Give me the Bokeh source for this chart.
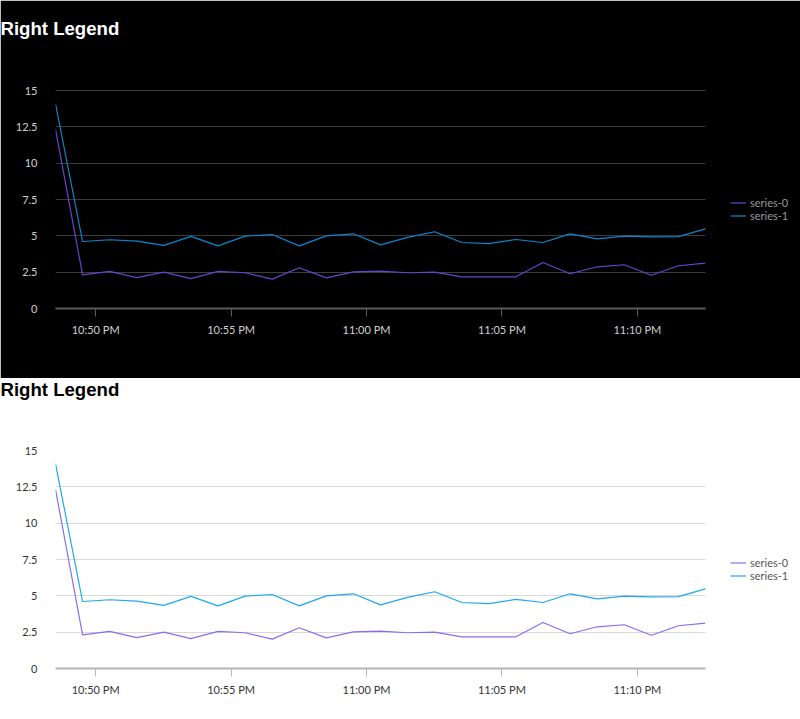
from datetime import datetime
from bokeh.plotting import figure
from bokeh.models import (Legend, LegendItem, DatetimeTickFormatter, DatetimeTicker,
                          Range1d, FixedTicker, ColumnDataSource, Title)
from bokeh.layouts import column
from bokeh.embed import file_html
from bokeh.resources import INLINE

times = ["22:48:31", "22:49:31", "22:50:31", "22:51:31", "22:52:31", "22:53:31",
         "22:54:31", "22:55:31", "22:56:31", "22:57:31", "22:58:31", "22:59:31",
         "23:00:31", "23:01:31", "23:02:31", "23:03:31", "23:04:31", "23:05:31",
         "23:06:31", "23:07:31", "23:08:31", "23:09:31", "23:10:31", "23:11:31",
         "23:12:31"]
series0 = [12.32, 2.32, 2.55, 2.13, 2.50, 2.06, 2.55, 2.46, 2.02, 2.80, 2.11, 2.52,
           2.57, 2.46, 2.50, 2.18, 2.18, 2.18, 3.17, 2.39, 2.87, 3.01, 2.29, 2.94, 3.12]
series1 = [14.09, 4.61, 4.73, 4.63, 4.34, 4.96, 4.31, 4.98, 5.09, 4.31, 5.00, 5.14,
           4.38, 4.89, 5.28, 4.54, 4.47, 4.75, 4.54, 5.14, 4.79, 4.98, 4.93, 4.95, 5.48]
y_ticks = [0, 2.5, 5, 7.5, 10, 12.5, 15]
title_text = "Right Legend"

xs = [datetime.strptime("2024-01-01 " + t, "%Y-%m-%d %H:%M:%S") for t in times]


def make_panel(dark, height, top, gap):
    bg = "#000000" if dark else "#ffffff"
    fg = "#d0d0d0" if dark else "#333333"
    grid = "#3c3c3c" if dark else "#d9d9d9"
    axis_col = "#5a5a5a" if dark else "#b4b6ba"
    c0 = "#6a42cc" if dark else "#8c6cf0"
    c1 = "#0a86cf" if dark else "#1fa8f2"
    # dark panel: one spare pixel above 15 so the black outline does not hide that grid line
    fh = 219 if dark else 218
    y_end = 15.07 if dark else 15
    p = figure(width=800, height=height, x_axis_type="datetime",
               x_range=Range1d(xs[0], xs[-1]), y_range=Range1d(0, y_end),
               frame_width=650, frame_height=fh,
               min_border_left=55, min_border_right=95, min_border_top=top,
               min_border_bottom=height - top - fh,
               toolbar_location=None, output_backend="svg",
               background_fill_color=bg, border_fill_color=bg,
               outline_line_color=bg if dark else None, title=None)

    # spacer between the frame and the title
    p.add_layout(Title(text=" ", text_font_size="1px", standoff=gap), "above")
    head = Title(text=title_text, text_font="Liberation Sans", text_font_size="18.6px",
                 text_font_style="bold", text_color="#ffffff" if dark else "#000000",
                 offset=-55, standoff=0, vertical_align="top")
    p.add_layout(head, "above")

    src = ColumnDataSource(dict(x=xs, s0=series0, s1=series1))
    r0 = p.line("x", "s0", source=src, line_color=c0, line_width=1.2)
    r1 = p.line("x", "s1", source=src, line_color=c1, line_width=1.2)

    p.xgrid.visible = False
    p.ygrid.grid_line_color = grid
    p.ygrid.grid_line_width = 1

    p.yaxis.ticker = FixedTicker(ticks=y_ticks)
    p.yaxis.axis_line_color = None
    p.yaxis.major_tick_line_color = None
    p.yaxis.minor_tick_line_color = None
    p.yaxis.major_label_standoff = 12
    p.yaxis.major_label_text_font = "Lato"
    p.yaxis.major_label_text_font_size = "11px"
    p.yaxis.major_label_text_color = fg

    p.xaxis.ticker = DatetimeTicker(desired_num_ticks=5)
    p.xaxis.formatter = DatetimeTickFormatter(minutes="%I:%M %p", hourmin="%I:%M %p",
                                              hours="%I:%M %p")
    p.xaxis.axis_line_color = axis_col
    p.xaxis.axis_line_width = 2
    p.xaxis.major_tick_line_color = axis_col
    p.xaxis.major_tick_out = 8
    p.xaxis.major_tick_in = 0
    p.xaxis.minor_tick_line_color = None
    p.xaxis.major_label_standoff = 6
    p.xaxis.major_label_text_font = "Lato"
    p.xaxis.major_label_text_font_size = "11px"
    p.xaxis.major_label_text_color = fg

    legend = Legend(items=[LegendItem(label="series-0", renderers=[r0]),
                           LegendItem(label="series-1", renderers=[r1])],
                    location=(25, 86), padding=0, margin=0, spacing=0,
                    label_height=13, glyph_height=13, glyph_width=16,
                    label_standoff=4, label_text_font="Lato",
                    label_text_font_size="11px",
                    label_text_color="#9a9a9a" if dark else "#555555",
                    background_fill_alpha=0, border_line_color=None)
    p.add_layout(legend, "right")
    return p


p1 = make_panel(True, 378, 89, 46)
p2 = make_panel(False, 341, 72, 46)
p = column(p1, p2, spacing=0)

open("out.html", "w").write(file_html(p, INLINE))
